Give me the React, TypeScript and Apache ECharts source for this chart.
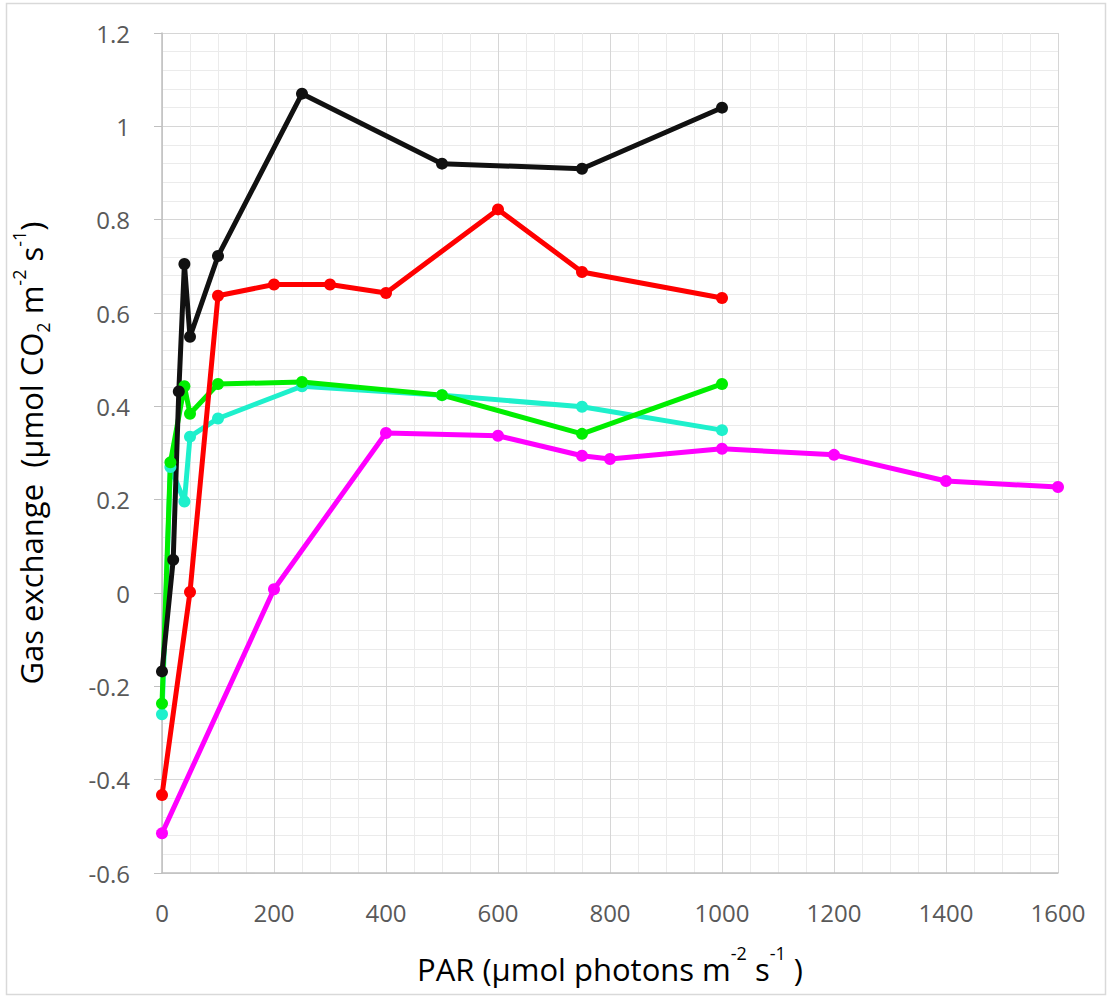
import React, { useEffect, useRef } from "react";
import * as echarts from "echarts";

const parBlack = [0, 20, 30, 40, 50, 100, 250, 500, 750, 1000];
const gasBlack = [-0.168, 0.071, 0.432, 0.705, 0.549, 0.722, 1.07, 0.92, 0.909, 1.04];

const parRed = [0, 50, 100, 200, 300, 400, 600, 750, 1000];
const gasRed = [-0.433, 0.002, 0.637, 0.661, 0.661, 0.643, 0.822, 0.688, 0.632];

const parGreen = [0, 15, 40, 50, 100, 250, 500, 750, 1000];
const gasGreen = [-0.237, 0.28, 0.443, 0.384, 0.448, 0.452, 0.424, 0.341, 0.448];

const parCyan = [0, 15, 40, 50, 100, 250, 500, 750, 1000];
const gasCyan = [-0.26, 0.27, 0.196, 0.335, 0.374, 0.443, 0.424, 0.399, 0.349];

const parMagenta = [0, 200, 400, 600, 750, 800, 1000, 1200, 1400, 1600];
const gasMagenta = [-0.515, 0.008, 0.343, 0.337, 0.294, 0.287, 0.309, 0.296, 0.24, 0.227];

const xTicks = [0, 200, 400, 600, 800, 1000, 1200, 1400, 1600];
const yTicks = [-0.6, -0.4, -0.2, 0, 0.2, 0.4, 0.6, 0.8, 1, 1.2];

const seriesDefs = [
  { name: "magenta", par: parMagenta, gas: gasMagenta, color: "#ff00ff" },
  { name: "cyan", par: parCyan, gas: gasCyan, color: "#1ef0cc" },
  { name: "green", par: parGreen, gas: gasGreen, color: "#00ee00" },
  { name: "red", par: parRed, gas: gasRed, color: "#ff0000" },
  { name: "black", par: parBlack, gas: gasBlack, color: "#111111" },
];

const FONT = "'Open Sans', 'Liberation Sans', sans-serif";

export default function App() {
  const ref = useRef<HTMLDivElement>(null);
  useEffect(() => {
    if (!ref.current) return;
    const chart = echarts.init(ref.current, null, { renderer: "svg" });
    chart.setOption({
      animation: false,
      backgroundColor: "#ffffff",
      grid: {
        left: 162,
        right: 49,
        top: 33,
        bottom: 125,
        containLabel: false,
        outerBoundsMode: "none",
      },
      xAxis: {
        type: "value",
        min: xTicks[0],
        max: xTicks[xTicks.length - 1],
        interval: 200,
        name: "{a|PAR (µmol photons m}{sup|-2}{a| s}{sup|-1}{a| )}",
        nameLocation: "middle",
        nameGap: 71,
        nameTextStyle: {
          rich: {
            a: { fontFamily: FONT, fontSize: 31, color: "#000", lineHeight: 40, verticalAlign: "bottom" },
            sup: { fontFamily: FONT, fontSize: 18, color: "#000", lineHeight: 36, verticalAlign: "top" },
          },
        },
        axisLine: { show: true, onZero: false, lineStyle: { color: "#bfbfbf", width: 1.5 } },
        axisTick: { show: false },
        axisLabel: {
          margin: 27,
          fontFamily: FONT,
          fontSize: 24,
          color: "#595959",
          formatter: (v: number) => String(v),
        },
        splitLine: { show: true, lineStyle: { color: "#d6d6d6", width: 1 } },
        minorTick: { show: false, splitNumber: 4 },
        minorSplitLine: { show: true, lineStyle: { color: "#ebebeb", width: 1 } },
      },
      yAxis: {
        type: "value",
        min: yTicks[0],
        max: yTicks[yTicks.length - 1],
        interval: 0.2,
        name: "{a|Gas exchange  (µmol CO}{sub|2}{a| m}{sup|-2}{a| s}{sup|-1}{a|)}",
        nameLocation: "middle",
        nameGap: 110,
        nameRotate: 90,
        nameTextStyle: {
          rich: {
            a: { fontFamily: FONT, fontSize: 31, color: "#000", lineHeight: 42 },
            sup: { fontFamily: FONT, fontSize: 18, color: "#000", lineHeight: 38, verticalAlign: "top" },
            sub: { fontFamily: FONT, fontSize: 18, color: "#000", lineHeight: 28, verticalAlign: "bottom" },
          },
        },
        axisLine: { show: true, onZero: false, lineStyle: { color: "#bfbfbf", width: 1.5 } },
        axisTick: { show: true, inside: false, length: 8, lineStyle: { color: "#bfbfbf" } },
        axisLabel: {
          margin: 32,
          fontFamily: FONT,
          fontSize: 24,
          color: "#595959",
          formatter: (v: number) => String(Math.round(v * 10) / 10),
        },
        splitLine: { show: true, lineStyle: { color: "#d6d6d6", width: 1 } },
        minorTick: { show: false, splitNumber: 5 },
        minorSplitLine: { show: true, lineStyle: { color: "#ebebeb", width: 1 } },
      },
      graphic: [
        {
          type: "rect",
          shape: { x: 6.5, y: 3.5, width: 1099, height: 991 },
          style: { fill: "none", stroke: "#d9d9d9", lineWidth: 1.5 },
          silent: true,
          z: -10,
        },
      ],
      series: seriesDefs.map((s) => ({
        name: s.name,
        type: "line",
        data: s.par.map((p, i) => [p, s.gas[i]]),
        symbol: "circle",
        symbolSize: 12,
        showSymbol: true,
        lineStyle: { color: s.color, width: 5 },
        itemStyle: { color: s.color },
        z: 3,
      })),
    });
    return () => chart.dispose();
  }, []);
  return (
    <div
      ref={ref}
      style={{ position: "fixed", left: 0, top: 0, width: 1107, height: 998 }}
    />
  );
}
